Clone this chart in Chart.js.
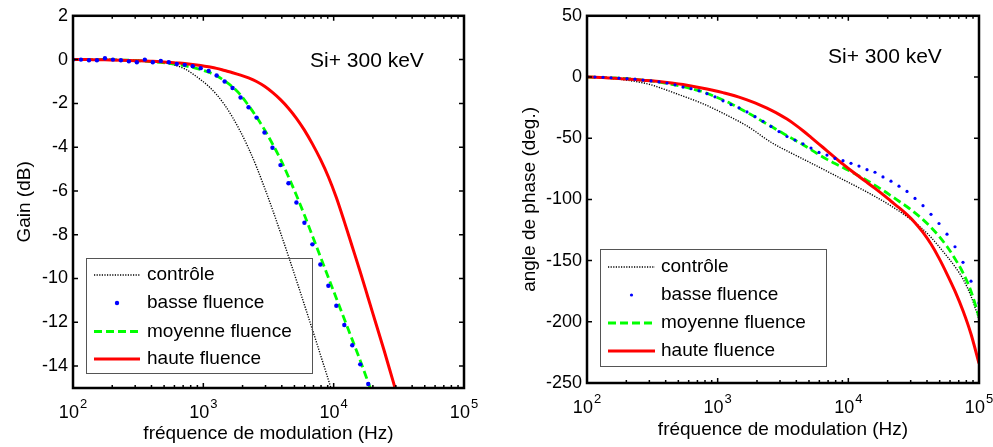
<!DOCTYPE html>
<html>
<head>
<meta charset="utf-8">
<script src="https://cdn.jsdelivr.net/npm/chart.js@4.4.1/dist/chart.umd.min.js"></script>
<style>
  html, body { margin: 0; padding: 0; background: #fff; }
  #wrap { position: relative; width: 993px; height: 447px; overflow: hidden; }
  canvas { position: absolute; top: 0; }
  #gain-chart { left: 0; }
  #phase-chart { left: 493px; }
</style>
</head>
<body>
<div id="wrap">
  <canvas id="gain-chart" width="493" height="447"></canvas>
  <canvas id="phase-chart" width="500" height="447"></canvas>
</div>
<script>
// fréquences de modulation (Hz), 50 points de 1e2 à 1e5
const freq = [100, 115.1, 132.6, 152.6, 175.8, 202.4, 233, 268.3, 308.9, 355.6,
  409.5, 471.5, 542.9, 625.1, 719.7, 828.6, 954, 1098.5, 1264.9, 1456.3,
  1676.8, 1930.7, 2223, 2559.5, 2947.1, 3393.2, 3906.9, 4498.4, 5179.5, 5963.6,
  6866.5, 7906, 9102.9, 10481, 12068, 13895, 15999, 18421, 21210, 24421,
  28118, 32375, 37276, 42919, 49417, 56899, 65513, 75431, 86851, 100000];

const seriesNames = ["contrôle", "basse fluence", "moyenne fluence", "haute fluence"];

// Gain (dB)
const gainControle = [0, 0, 0, 0, 0, 0, 0, -0.01, -0.02, -0.04, -0.07, -0.11, -0.18, -0.28, -0.42,
  -0.65, -0.92, -1.22, -1.6, -2.07, -2.64, -3.3, -4.05, -4.9, -5.85, -6.85, -7.9, -8.98, -10.08,
  -11.2, -12.33, -13.47, -14.62, -15.77];
const gainBasse = [0, 0, -0.03, -0.03, 0.06, 0, -0.03, -0.08, -0.12, 0, -0.12, -0.06, -0.12, -0.2,
  -0.24, -0.3, -0.39, -0.52, -0.73, -1.0, -1.3, -1.73, -2.18, -2.65, -3.33, -4.03, -4.82, -5.65,
  -6.53, -7.45, -8.44, -9.36, -10.33, -11.24, -12.12, -13.05, -13.92, -14.82];
const gainMoyenne = [0, 0, 0, 0, 0, 0, -0.02, -0.03, -0.05, -0.07, -0.1, -0.13, -0.17, -0.22, -0.28,
  -0.36, -0.46, -0.58, -0.74, -0.97, -1.25, -1.62, -2.1, -2.62, -3.2, -3.85, -4.55, -5.35, -6.2,
  -7.1, -8.05, -9.0, -9.95, -10.9, -11.85, -12.8, -13.75, -14.75, -15.75];
const gainHaute = [0, 0, 0, -0.01, -0.01, -0.02, -0.03, -0.04, -0.05, -0.06, -0.08, -0.1, -0.12,
  -0.15, -0.18, -0.22, -0.27, -0.33, -0.4, -0.5, -0.6, -0.71, -0.84, -1.0, -1.22, -1.5, -1.83,
  -2.22, -2.68, -3.22, -3.85, -4.55, -5.35, -6.3, -7.4, -8.55, -9.7, -10.9, -12.1, -13.3, -14.55,
  -15.8];

// angle de phase (deg.)
const phaseControle = [0, -0.3, -0.7, -1.2, -1.8, -2.6, -3.6, -4.8, -6.3, -8.5, -10.8, -13.2, -15.6,
  -18, -20.5, -23.3, -26.4, -29.6, -32.9, -36.3, -40, -44.3, -49, -53.3, -57, -60.4, -63.7, -67,
  -70.3, -73.6, -77, -80.4, -83.8, -87.2, -90.5, -94, -97.6, -101.3, -105.3, -109.5, -114, -119,
  -124.5, -131, -138.5, -146.5, -155, -165, -179, -198];
const phaseBasse = [0.5, 0, -0.3, -0.6, -1.0, -1.4, -1.8, -2.5, -3.2, -4.0, -5.0, -6.4, -8.2, -9.5,
  -11.3, -13.6, -16.2, -19.5, -22.5, -25.2, -28.5, -32.4, -36.2, -40.4, -44.6, -48.6, -51.5, -54.6,
  -58.1, -61.6, -63.8, -66.5, -68.4, -70.5, -72.8, -75.7, -77.8, -81.6, -85.1, -89.2, -93.5, -99.2,
  -105.1, -112.2, -119.7, -128.4, -138.7, -151.4, -166.8, -184.6];
const phaseMoyenne = [0, -0.2, -0.4, -0.7, -1.0, -1.4, -1.9, -2.5, -3.2, -4.1, -5.2, -6.4, -7.8, -9.4,
  -11.2, -13.3, -16, -18.8, -21.8, -25.3, -29, -32.5, -36.5, -40.3, -44.2, -47.8, -51.6, -55.3,
  -59.3, -63.5, -67.3, -70.7, -74, -77.3, -80.8, -84.5, -88.5, -92.6, -97, -101.5, -106, -111,
  -116.5, -122.8, -130, -138.5, -148.5, -160, -175, -196];
const phaseHaute = [0, -0.2, -0.5, -0.8, -1.3, -1.7, -2.1, -2.6, -3.1, -3.7, -4.4, -5.2, -6.2, -7.3,
  -8.5, -9.8, -11.2, -12.8, -14.5, -16.5, -18.7, -21.2, -24, -27.1, -30.5, -34.4, -38.9, -43.9,
  -49.3, -54.8, -60.3, -65.8, -71.2, -76.4, -81.3, -86.1, -91, -96.1, -101.5, -106.8, -112.5, -119,
  -127, -136.5, -148, -161, -175, -191, -210, -234];

const gainTicks = [2, 0, -2, -4, -6, -8, -10, -12, -14];
const phaseTicks = [50, 0, -50, -100, -150, -200, -250];
const decadeTicks = [100, 1000, 10000, 100000];
const decadeExp = ["2", "3", "4", "5"];
const noteText = "Si+ 300 keV";

const FONT = "'Liberation Sans', Arial, sans-serif";

function pts(vals) {
  return vals.map((v, i) => ({ x: freq[i], y: v }));
}

function makeDatasets(ctrl, basse, moy, haute, dotRadius) {
  return [
    {
      label: seriesNames[0],
      data: pts(ctrl),
      borderColor: "#000000",
      borderWidth: 1.4,
      borderDash: [1.2, 1.4],
      pointRadius: 0,
      order: 3,
    },
    {
      label: seriesNames[1],
      data: pts(basse),
      showLine: false,
      pointRadius: dotRadius,
      pointBackgroundColor: "#0000ff",
      pointBorderWidth: 0,
      borderColor: "#0000ff",
      order: 0,
    },
    {
      label: seriesNames[2],
      data: pts(moy),
      borderColor: "#00ff00",
      borderWidth: 2.8,
      borderDash: [8, 4],
      pointRadius: 0,
      order: 2,
    },
    {
      label: seriesNames[3],
      data: pts(haute),
      borderColor: "#ff0000",
      borderWidth: 3,
      pointRadius: 0,
      order: 1,
    },
  ];
}

// cadre, graduations intérieures, étiquettes 10^n, légende et texte
const matlabFrame = {
  id: "matlabFrame",
  afterDraw(chart, args, opts) {
    const ctx = chart.ctx;
    const a = chart.chartArea;
    const xs = chart.scales.x;
    const ys = chart.scales.y;
    ctx.save();

    ctx.strokeStyle = "#000";
    ctx.lineWidth = 1.5;
    ctx.beginPath();
    ys.ticks.forEach((t) => {
      const y = ys.getPixelForValue(t.value);
      ctx.moveTo(a.left, y); ctx.lineTo(a.left + 5, y);
      ctx.moveTo(a.right, y); ctx.lineTo(a.right - 5, y);
    });
    decadeTicks.forEach((d, i) => {
      const x = xs.getPixelForValue(d);
      ctx.moveTo(x, a.bottom); ctx.lineTo(x, a.bottom - 5);
      ctx.moveTo(x, a.top); ctx.lineTo(x, a.top + 5);
      if (i < decadeTicks.length - 1) {
        for (let m = 2; m <= 9; m++) {
          const xm = xs.getPixelForValue(d * m);
          ctx.moveTo(xm, a.bottom); ctx.lineTo(xm, a.bottom - 3);
          ctx.moveTo(xm, a.top); ctx.lineTo(xm, a.top + 3);
        }
      }
    });
    ctx.stroke();

    ctx.lineWidth = 2.5;
    ctx.strokeRect(a.left, a.top, a.right - a.left, a.bottom - a.top);

    // étiquettes 10^n
    ctx.fillStyle = "#000";
    ctx.textBaseline = "alphabetic";
    ctx.textAlign = "left";
    decadeTicks.forEach((d, i) => {
      const x = xs.getPixelForValue(d);
      ctx.font = "18px " + FONT;
      const wBase = ctx.measureText("10").width;
      ctx.font = "13px " + FONT;
      const wExp = ctx.measureText(decadeExp[i]).width;
      const x0 = x - (wBase + 1 + wExp) / 2;
      ctx.font = "18px " + FONT;
      ctx.fillText("10", x0, opts.labelBase);
      ctx.font = "13px " + FONT;
      ctx.fillText(decadeExp[i], x0 + wBase + 1, opts.labelBase - 10);
    });

    // légende (cadre sans fond)
    const L = opts.legend;
    ctx.strokeStyle = "#555";
    ctx.lineWidth = 1;
    ctx.strokeRect(L.x + 0.5, L.y + 0.5, L.w, L.h);
    chart.data.datasets.forEach((ds, i) => {
      const yy = L.y + L.rows[i];
      if (ds.showLine === false) {
        ctx.fillStyle = ds.pointBackgroundColor;
        ctx.beginPath();
        ctx.arc(L.x + (L.s1 + L.s2) / 2, yy, ds.pointRadius, 0, Math.PI * 2);
        ctx.fill();
      } else {
        ctx.strokeStyle = ds.borderColor;
        ctx.lineWidth = ds.borderWidth;
        ctx.setLineDash(ds.borderDash || []);
        ctx.beginPath();
        ctx.moveTo(L.x + L.s1, yy);
        ctx.lineTo(L.x + L.s2, yy);
        ctx.stroke();
        ctx.setLineDash([]);
      }
      ctx.fillStyle = "#000";
      ctx.font = "19px " + FONT;
      ctx.textBaseline = "middle";
      ctx.fillText(ds.label, L.x + L.tx, yy);
    });

    ctx.font = "21px " + FONT;
    ctx.textBaseline = "middle";
    ctx.fillStyle = "#000";
    ctx.fillText(noteText, opts.note.x, opts.note.y);

    ctx.restore();
  },
};

function makeConfig(datasets, p) {
  return {
    type: "line",
    data: { datasets: datasets },
    plugins: [matlabFrame],
    options: {
      responsive: false,
      animation: false,
      events: [],
      layout: { padding: { top: p.top, right: p.right, left: 0, bottom: 0 } },
      datasets: { line: { cubicInterpolationMode: "monotone" } },
      plugins: {
        legend: { display: false },
        tooltip: { enabled: false },
        matlabFrame: { legend: p.legend, note: p.note, labelBase: p.labelBase },
      },
      scales: {
        x: {
          type: "logarithmic",
          min: 100,
          max: 100000,
          grid: { display: false, drawTicks: false },
          border: { display: false },
          ticks: { display: false },
          title: {
            display: true,
            text: "fréquence de modulation (Hz)",
            color: "#000",
            font: { family: FONT, size: 19 },
            padding: { top: 0, bottom: p.xTitlePad },
          },
          afterFit: (s) => { s.height = p.xHeight; },
        },
        y: {
          min: p.yMin,
          max: p.yMax,
          grid: { display: false, drawTicks: false },
          border: { display: false },
          afterBuildTicks: (s) => { s.ticks = p.yTicks.map((v) => ({ value: v })); },
          ticks: {
            color: "#000",
            padding: 5,
            font: { family: FONT, size: 18 },
          },
          title: {
            display: true,
            text: p.yTitle,
            color: "#000",
            font: { family: FONT, size: 19 },
            padding: { top: p.yTitlePad, bottom: 0 },
          },
          afterFit: (s) => { s.width = p.yWidth; },
        },
      },
    },
  };
}

new Chart(document.getElementById("gain-chart"), makeConfig(
  makeDatasets(gainControle, gainBasse, gainMoyenne, gainHaute, 2.2),
  {
    top: 14, right: 29, xHeight: 59, yWidth: 73,
    yMin: -15, yMax: 2, yTicks: gainTicks, yTitle: "Gain (dB)",
    yTitlePad: 13, xTitlePad: 2, labelBase: 418,
    legend: { x: 86, y: 258, w: 226, h: 115, rows: [17, 45, 73.5, 101], s1: 8, s2: 54, tx: 61 },
    note: { x: 310, y: 61 },
  }
));

new Chart(document.getElementById("phase-chart"), makeConfig(
  makeDatasets(phaseControle, phaseBasse, phaseMoyenne, phaseHaute, 1.6),
  {
    top: 13, right: 14, xHeight: 64, yWidth: 94,
    yMin: -250, yMax: 50, yTicks: phaseTicks, yTitle: "angle de phase (deg.)",
    yTitlePad: 25, xTitlePad: 6, labelBase: 413,
    legend: { x: 107, y: 249, w: 226, h: 117, rows: [18, 46, 74, 102], s1: 8, s2: 55, tx: 61 },
    note: { x: 335, y: 57 },
  }
));
</script>
</body>
</html>
